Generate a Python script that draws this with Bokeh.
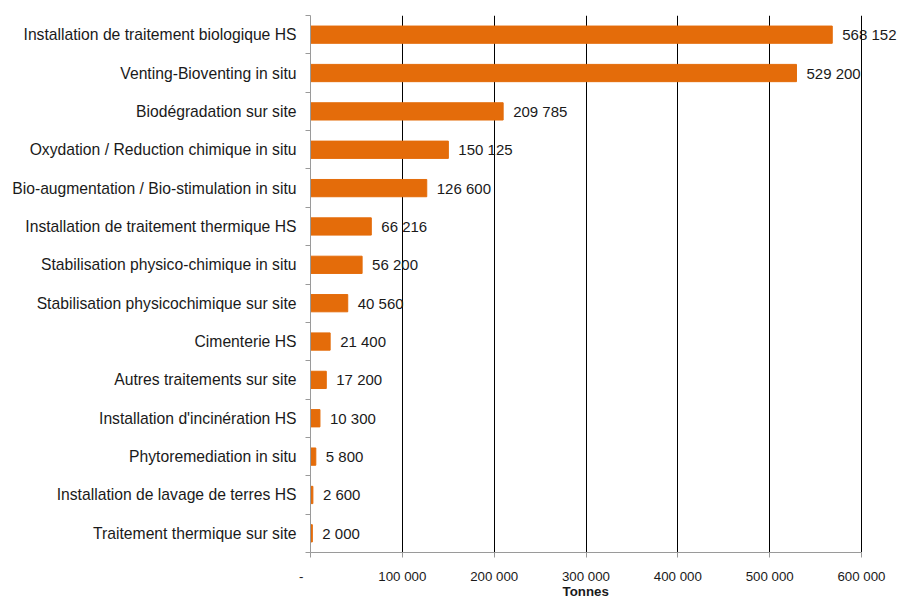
from bokeh.plotting import figure
from bokeh.models import ColumnDataSource, Range1d, FixedTicker, LabelSet
from bokeh.core.properties import value
from bokeh.embed import file_html
from bokeh.resources import INLINE

categories = [
    "Installation de traitement biologique HS",
    "Venting-Bioventing in situ",
    "Biodégradation sur site",
    "Oxydation / Reduction chimique in situ",
    "Bio-augmentation / Bio-stimulation in situ",
    "Installation de traitement thermique HS",
    "Stabilisation physico-chimique in situ",
    "Stabilisation physicochimique sur site",
    "Cimenterie HS",
    "Autres traitements sur site",
    "Installation d'incinération HS",
    "Phytoremediation in situ",
    "Installation de lavage de terres HS",
    "Traitement thermique sur site",
]
values = [568152, 529200, 209785, 150125, 126600, 66216, 56200, 40560,
          21400, 17200, 10300, 5800, 2600, 2000]
x_ticks = [0, 100000, 200000, 300000, 400000, 500000, 600000]
x_tick_labels = ["-\u00a0\u00a0\u00a0\u00a0\u00a0", "100 000", "200 000", "300 000",
                 "400 000", "500 000", "600 000"]
x_title = "Tonnes"

n = len(categories)
ypos = [n - i - 0.5 for i in range(n)]
labels = [f"{v:,}".replace(",", " ") for v in values]

src = ColumnDataSource(dict(y=ypos, v=values, lab=labels))

x_max = 600000
# frame extends 40px right of the 600 000 line so value labels are not clipped
x_end = x_max * (551 + 40) / 551

p = figure(width=901, height=601, output_backend="svg", toolbar_location=None,
           x_range=Range1d(0, x_end), y_range=Range1d(0, n),
           min_border_left=310, min_border_right=0, min_border_top=15,
           min_border_bottom=46, x_axis_location="below")
p.outline_line_color = None
p.background_fill_color = "white"
p.border_fill_color = "white"

p.hbar(y="y", right="v", left=0, height=0.45, color="#E46C0A", source=src)
p.add_layout(LabelSet(x="v", y="y", text="lab", source=src, x_offset=10,
                      text_baseline="middle", text_align="left",
                      text_font_size="15px", text_color="#1a1a1a",
                      text_font=value("Liberation Sans")))

# x axis
xa = p.xaxis[0]
xa.ticker = FixedTicker(ticks=x_ticks)
xa.bounds = (0, x_max)
xa.major_label_overrides = {t: l for t, l in zip(x_ticks, x_tick_labels)}
xa.axis_line_color = "#9a9a9a"
xa.major_tick_line_color = "#9a9a9a"
xa.major_tick_out = 5
xa.major_tick_in = 0
xa.minor_tick_line_color = None
xa.major_label_text_font = "Liberation Sans"
xa.major_label_text_font_size = "13.3px"
xa.major_label_text_color = "#1a1a1a"
xa.major_label_standoff = 11
# trailing no-break spaces re-centre the title under the 0..600 000 span
xa.axis_label = x_title + "\u00a0" * 11
xa.axis_label_text_font = "Liberation Sans"
xa.axis_label_text_font_size = "13.3px"
xa.axis_label_text_font_style = "bold"
xa.axis_label_text_color = "#1a1a1a"
xa.axis_label_standoff = -3

# y axis
ya = p.yaxis[0]
ya.ticker = FixedTicker(ticks=ypos, minor_ticks=list(range(n + 1)))
ya.major_label_overrides = {y: c for y, c in zip(ypos, categories)}
ya.axis_line_color = "#9a9a9a"
ya.major_tick_line_color = None
ya.major_tick_out = 0
ya.major_tick_in = 0
ya.minor_tick_line_color = "#9a9a9a"
ya.minor_tick_out = 5
ya.minor_tick_in = 0
ya.major_label_text_font = "Liberation Sans"
ya.major_label_text_font_size = "15.7px"
ya.major_label_text_color = "#1a1a1a"
ya.major_label_standoff = 9

p.xgrid.ticker = FixedTicker(ticks=x_ticks[1:])
p.xgrid.grid_line_color = "#000000"
p.xgrid.grid_line_width = 1
p.ygrid.grid_line_color = None

open("out.html", "w").write(file_html(p, INLINE))
